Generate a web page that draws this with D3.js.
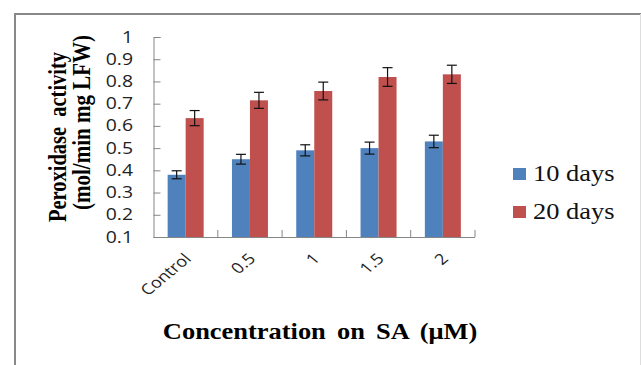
<!DOCTYPE html>
<html>
<head>
<meta charset="utf-8">
<script src="https://cdn.jsdelivr.net/npm/d3@7"></script>
<style>
  body { margin: 0; background: #fff; }
  svg { display: block; }
</style>
</head>
<body>
<div id="chart"></div>
<script>
// data
const categories = ["Control", "0.5", "1", "1.5", "2"];
const seriesNames = ["10 days", "20 days"];
const days10 = [0.38, 0.45, 0.49, 0.50, 0.53];
const days20 = [0.635, 0.715, 0.757, 0.82, 0.832];
const err10 = [0.018, 0.022, 0.025, 0.027, 0.028];
const err20 = [0.034, 0.036, 0.040, 0.042, 0.041];
const yTicks = [0.1, 0.2, 0.3, 0.4, 0.5, 0.6, 0.7, 0.8, 0.9, 1];
const colors = ["#4f81bd", "#c0504d"];

const W = 641, H = 365;
const plotL = 153.5, plotR = 475, plotT = 37, plotB = 237;
// the original picture is a bit wider than tall, so text is stretched sideways
const stretch = 1.2;

const svg = d3.select("#chart").append("svg")
    .attr("width", W)
    .attr("height", H);

// frame
svg.append("line").attr("x1", 15).attr("x2", W).attr("y1", 14).attr("y2", 14)
    .attr("stroke", "#888").attr("stroke-width", 2);
svg.append("line").attr("x1", 15).attr("x2", 15).attr("y1", 13).attr("y2", H)
    .attr("stroke", "#888").attr("stroke-width", 2);
svg.append("line").attr("x1", 640.5).attr("x2", 640.5).attr("y1", 14).attr("y2", H)
    .attr("stroke", "#ddd").attr("stroke-width", 1);

const x = d3.scaleBand()
    .domain(categories)
    .range([plotL, plotR])
    .paddingInner(0.44)
    .paddingOuter(0.22);

const x1 = d3.scaleBand()
    .domain(seriesNames)
    .range([0, x.bandwidth()]);

const y = d3.scaleLinear()
    .domain([0.1, 1])
    .range([plotB, plotT]);

const axisColor = "#868686";

// y axis, ticks pointing inward
const yAxis = svg.append("g")
    .attr("transform", "translate(" + plotL + ",0)")
    .call(d3.axisRight(y).tickValues(yTicks).tickSize(7).tickFormat(""));
yAxis.select(".domain").attr("stroke", axisColor);
yAxis.selectAll(".tick line").attr("stroke", axisColor);

svg.append("g").selectAll("text")
    .data(yTicks)
    .join("text")
    .attr("transform", d => "translate(133," + (y(d) + 5.5) + ") scale(1.25,1)")
    .attr("text-anchor", "end")
    .style("font-family", "'Open Sans', sans-serif")
    .style("font-size", "15.5px")
    .attr("fill", "#222")
    .text(d => d3.format("~g")(d));

// bars
const groups = svg.append("g").selectAll("g")
    .data(categories)
    .join("g")
    .attr("transform", d => "translate(" + x(d) + ",0)");

const rows = categories.map((c, i) => [
    {s: seriesNames[0], v: days10[i], e: err10[i], k: 0},
    {s: seriesNames[1], v: days20[i], e: err20[i], k: 1}
]);

groups.selectAll("rect")
    .data((d, i) => rows[i])
    .join("rect")
    .attr("x", d => x1(d.s))
    .attr("width", x1.bandwidth())
    .attr("y", d => y(d.v))
    .attr("height", d => plotB - y(d.v))
    .attr("fill", d => colors[d.k]);

// error bars
const eb = groups.selectAll("g.err")
    .data((d, i) => rows[i])
    .join("g")
    .attr("class", "err")
    .attr("stroke", "#111")
    .attr("stroke-width", 1.2);
eb.append("line")
    .attr("x1", d => x1(d.s) + x1.bandwidth() / 2)
    .attr("x2", d => x1(d.s) + x1.bandwidth() / 2)
    .attr("y1", d => y(d.v + d.e))
    .attr("y2", d => y(d.v - d.e));
eb.selectAll("line.cap")
    .data(d => [d.v + d.e, d.v - d.e].map(v => ({s: d.s, v: v})))
    .join("line")
    .attr("class", "cap")
    .attr("x1", d => x1(d.s) + x1.bandwidth() / 2 - 5)
    .attr("x2", d => x1(d.s) + x1.bandwidth() / 2 + 5)
    .attr("y1", d => y(d.v))
    .attr("y2", d => y(d.v));

// x axis with category separators pointing up
const seps = d3.range(categories.length + 1).map(i => plotL + i * (plotR - plotL) / categories.length);
svg.append("line")
    .attr("x1", plotL).attr("x2", plotR)
    .attr("y1", plotB + 0.5).attr("y2", plotB + 0.5)
    .attr("stroke", axisColor);
svg.append("g").selectAll("line")
    .data(seps.slice(1))
    .join("line")
    .attr("x1", d => d).attr("x2", d => d)
    .attr("y1", plotB - 7).attr("y2", plotB)
    .attr("stroke", axisColor);

// rotated category labels
svg.append("g").selectAll("text")
    .data(categories)
    .join("text")
    .attr("transform", d => "translate(" + (x(d) + x.bandwidth() / 2 + 2) + "," + (plotB + 19) + ") scale(" + stretch + ",1) rotate(-45)")
    .attr("text-anchor", "end")
    .attr("dy", "0.35em")
    .style("font-family", "'Open Sans', sans-serif")
    .style("font-size", "15px")
    .attr("fill", "#222")
    .text(d => d);

// axis titles
const serif = "'Liberation Serif', 'Times New Roman', serif";
svg.append("text")
    .attr("transform", "translate(66,137) scale(" + stretch + ",1) rotate(-90)")
    .attr("text-anchor", "middle")
    .style("font-family", serif)
    .style("font-weight", "bold")
    .style("font-size", "20.5px")
    .style("word-spacing", "5px")
    .text("Peroxidase activity");
svg.append("text")
    .attr("transform", "translate(90,122.5) scale(" + stretch + ",1) rotate(-90)")
    .attr("text-anchor", "middle")
    .style("font-family", serif)
    .style("font-weight", "bold")
    .style("font-size", "21px")
    .text("(mol/min mg LFW)");

svg.append("text")
    .attr("transform", "translate(320,339) scale(1.15,1)")
    .attr("text-anchor", "middle")
    .style("font-family", serif)
    .style("font-weight", "bold")
    .style("font-size", "23px")
    .style("word-spacing", "4px")
    .text("Concentration on SA (\u03bcM)");

// legend
const legend = svg.append("g").selectAll("g")
    .data(seriesNames)
    .join("g")
    .attr("transform", (d, i) => "translate(513," + (168 + i * 38) + ")");
legend.append("rect")
    .attr("width", 13)
    .attr("height", 12)
    .attr("fill", (d, i) => colors[i]);
legend.append("text")
    .attr("transform", "translate(20,13) scale(1.15,1)")
    .style("font-family", serif)
    .style("font-size", "23px")
    .attr("fill", "#111")
    .text(d => d);
</script>
</body>
</html>
